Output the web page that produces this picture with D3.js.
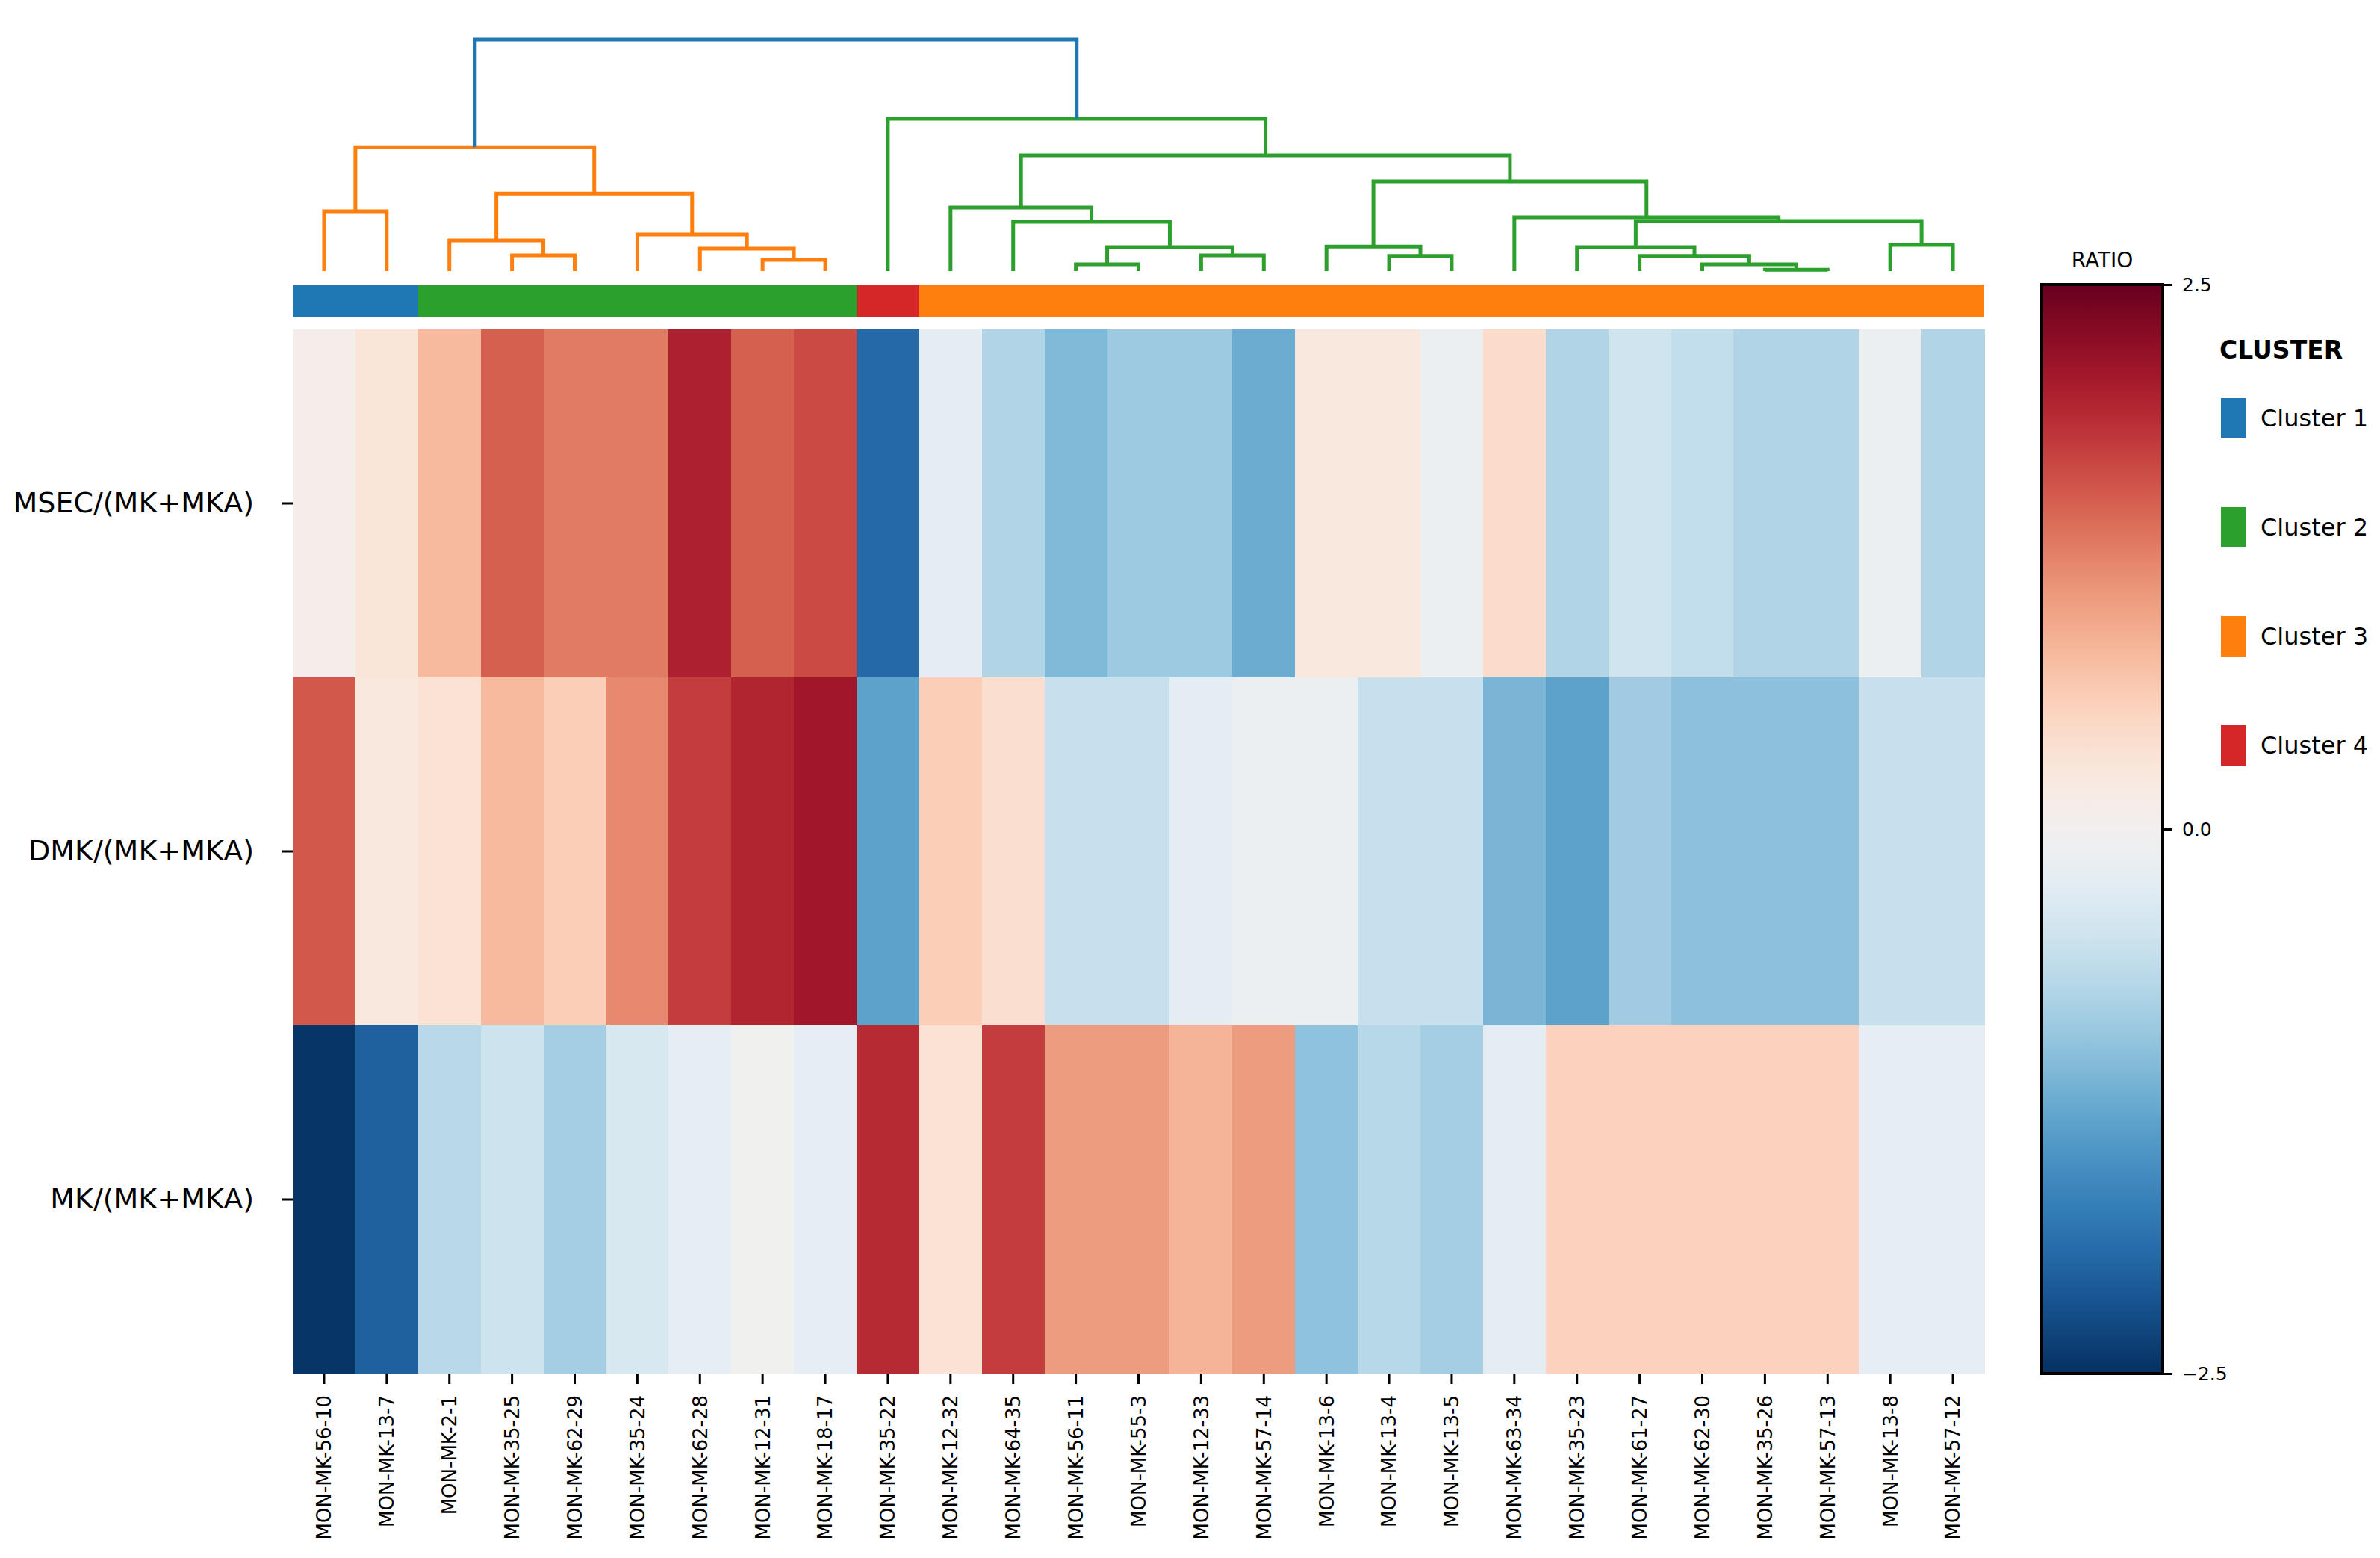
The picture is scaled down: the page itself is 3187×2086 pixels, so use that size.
<!DOCTYPE html>
<html>
<head>
<meta charset="utf-8">
<script src="https://cdn.jsdelivr.net/npm/d3@7"></script>
<style>
  body { margin: 0; background: #fff; }
  text { font-family: "DejaVu Sans", sans-serif; }
</style>
</head>
<body>
<svg id="chart"></svg>
<script>
// samples, in the order the dendrogram leaves them
var samples = ["MON-MK-56-10","MON-MK-13-7","MON-MK-2-1","MON-MK-35-25","MON-MK-62-29","MON-MK-35-24",
  "MON-MK-62-28","MON-MK-12-31","MON-MK-18-17","MON-MK-35-22","MON-MK-12-32","MON-MK-64-35",
  "MON-MK-56-11","MON-MK-55-3","MON-MK-12-33","MON-MK-57-14","MON-MK-13-6","MON-MK-13-4",
  "MON-MK-13-5","MON-MK-63-34","MON-MK-35-23","MON-MK-61-27","MON-MK-62-30","MON-MK-35-26",
  "MON-MK-57-13","MON-MK-13-8","MON-MK-57-12"];
var ratios = ["MSEC/(MK+MKA)","DMK/(MK+MKA)","MK/(MK+MKA)"];

// scaled ratio values, one list per row
var msecValues = [0.1,0.3,0.8,1.5,1.3,1.3,2.0,1.5,1.65,-1.95,-0.25,-0.75,-1.1,-0.9,-0.9,-1.25,
  0.25,0.25,-0.12,0.45,-0.75,-0.48,-0.6,-0.75,-0.75,-0.12,-0.75];
var dmkValues = [1.55,0.25,0.35,0.8,0.6,1.2,1.75,1.95,2.1,-1.35,0.6,0.4,-0.55,-0.55,-0.25,-0.12,
  -0.12,-0.55,-0.55,-1.15,-1.35,-0.88,-1.02,-1.02,-1.02,-0.55,-0.55];
var mkValues = [-2.45,-2.05,-0.68,-0.5,-0.85,-0.38,-0.22,-0.03,-0.22,1.9,0.35,1.75,1.05,1.05,0.85,1.05,
  -1.0,-0.7,-0.85,-0.25,0.55,0.55,0.55,0.55,0.55,-0.22,-0.22];
var rowValues = [msecValues, dmkValues, mkValues];

// cluster of each sample (colour bar)
var sampleCluster = [1,1,2,2,2,2,2,2,2,4,3,3,3,3,3,3,3,3,3,3,3,3,3,3,3,3,3];
var clusterNames = ["Cluster 1","Cluster 2","Cluster 3","Cluster 4"];
var clusterColors = ["#1f77b4","#2ca02c","#ff7f0e","#d62728"];

// linkage (scipy style): [left, right, distance], ids >= 27 are earlier merges
var linkage = [
  [7,8,0.48],[6,27,0.97],[3,4,0.68],[2,29,1.32],[5,28,1.58],[0,1,2.58],[30,31,3.35],[32,33,5.35],
  [23,24,0.06],[12,13,0.29],[22,35,0.29],[17,18,0.65],[21,37,0.65],[14,15,0.68],[36,40,1.03],
  [20,39,1.03],[16,38,1.06],[25,26,1.13],[11,41,2.13],[42,44,2.16],[19,46,2.32],[10,45,2.74],
  [43,47,3.87],[48,49,5.0],[9,50,6.58],[34,51,10.0]
];
var colorThreshold = 7;
var linkPalette = ["#ff7f0e","#2ca02c"];
var aboveColor = "#1f77b4";

var colorTicks = [-2.5, 0, 2.5];

var W = 3187, H = 2086;
var svg = d3.select("#chart").attr("width", W).attr("height", H);

var x = d3.scaleBand().domain(samples).range([392, 2657]);
var y = d3.scaleBand().domain(ratios).range([441, 1839]);
var color = d3.scaleSequential(d3.interpolateRdBu).domain([2.5, -2.5]);
var yDen = d3.scaleLinear().domain([0, 10]).range([363, 53]);

// heatmap
var cells = [];
rowValues.forEach(function(vals, r){
  vals.forEach(function(v, c){ cells.push({row: ratios[r], col: samples[c], v: v}); });
});
svg.append("g").attr("shape-rendering", "crispEdges")
  .selectAll("rect").data(cells).enter().append("rect")
  .attr("x", function(d){ return x(d.col); })
  .attr("y", function(d){ return y(d.row); })
  .attr("width", x.bandwidth() + 1)
  .attr("height", y.bandwidth() + 1)
  .attr("fill", function(d){ return color(d.v); });

// cluster colour bar
svg.append("g").attr("shape-rendering", "crispEdges")
  .selectAll("rect").data(samples).enter().append("rect")
  .attr("x", function(d){ return x(d); })
  .attr("y", 381)
  .attr("width", function(d, i){ return i < samples.length - 1 ? x.bandwidth() + 1 : x.bandwidth(); })
  .attr("height", 43)
  .attr("fill", function(d, i){ return clusterColors[sampleCluster[i] - 1]; });

// dendrogram nodes
var nodes = samples.map(function(s){
  return {x: x(s) + x.bandwidth() / 2, h: 0};
});
linkage.forEach(function(l){
  nodes.push({left: l[0], right: l[1], h: l[2],
    x: (nodes[l[0]].x + nodes[l[1]].x) / 2});
});
// colour: clusters below the threshold get the palette in left-to-right order
var next = 0;
function paint(id, c){
  var nd = nodes[id];
  if (nd.left === undefined) return;
  if (c == null && nd.h < colorThreshold) c = linkPalette[next++ % linkPalette.length];
  nd.color = c == null ? aboveColor : c;
  paint(nd.left, c);
  paint(nd.right, c);
}
paint(nodes.length - 1, null);

var links = nodes.filter(function(d){ return d.left !== undefined; });
svg.append("g").selectAll("path").data(links).enter().append("path")
  .attr("d", function(d){
    var a = nodes[d.left], b = nodes[d.right];
    return "M" + a.x + "," + yDen(a.h) + "V" + yDen(d.h) + "H" + b.x + "V" + yDen(b.h);
  })
  .attr("fill", "none")
  .attr("stroke", function(d){ return d.color; })
  .attr("stroke-width", 5);

// axes
var xAxis = svg.append("g").attr("transform", "translate(0,1839)")
  .call(d3.axisBottom(x).tickSize(14).tickSizeOuter(0));
xAxis.select(".domain").remove();
xAxis.selectAll(".tick line").attr("stroke", "#000").attr("stroke-width", 3);
xAxis.selectAll(".tick text")
  .attr("transform", "rotate(-90)")
  .attr("x", -29).attr("y", 0).attr("dy", "0.36em")
  .style("text-anchor", "end")
  .attr("fill", "#000")
  .style("font-size", "26px");

var yAxis = svg.append("g").attr("transform", "translate(392,0)")
  .call(d3.axisLeft(y).tickSize(14).tickPadding(38).tickSizeOuter(0));
yAxis.select(".domain").remove();
yAxis.selectAll(".tick line").attr("stroke", "#000").attr("stroke-width", 3);
yAxis.selectAll(".tick text").attr("fill", "#000").style("font-size", "38px");

// colour bar
var cb = {x: 2734, w: 162, top: 381, bottom: 1839};
var cbScale = d3.scaleLinear().domain([-2.5, 2.5]).range([cb.bottom, cb.top]);
var grad = svg.append("defs").append("linearGradient").attr("id", "cbGrad")
  .attr("x1", 0).attr("y1", 1).attr("x2", 0).attr("y2", 0);
grad.selectAll("stop").data(d3.range(0, 1.0001, 0.02)).enter().append("stop")
  .attr("offset", function(d){ return d; })
  .attr("stop-color", function(d){ return color(-2.5 + 5 * d); });
svg.append("rect")
  .attr("x", cb.x).attr("y", cb.top)
  .attr("width", cb.w).attr("height", cb.bottom - cb.top)
  .attr("fill", "url(#cbGrad)")
  .attr("stroke", "#000").attr("stroke-width", 4);
var cAxis = svg.append("g").attr("transform", "translate(" + (cb.x + cb.w) + ",0)")
  .call(d3.axisRight(cbScale).tickValues(colorTicks).tickFormat(d3.format(".1f"))
    .tickSize(13).tickPadding(13));
cAxis.select(".domain").remove();
cAxis.selectAll(".tick line").attr("stroke", "#000").attr("stroke-width", 3);
cAxis.selectAll(".tick text").attr("fill", "#000").style("font-size", "25px");
svg.append("text")
  .attr("x", cb.x + cb.w / 2).attr("y", 348)
  .attr("text-anchor", "middle").attr("dominant-baseline", "central")
  .style("font-size", "28px")
  .text("RATIO");

// cluster legend
svg.append("text")
  .attr("x", 2972).attr("y", 468)
  .attr("dominant-baseline", "central")
  .style("font-size", "33px").style("font-weight", "bold")
  .text("CLUSTER");
var leg = svg.append("g").selectAll("g").data(clusterNames).enter().append("g")
  .attr("transform", function(d, i){ return "translate(2974," + (560 + i * 146) + ")"; });
leg.append("rect")
  .attr("x", 0).attr("y", -27)
  .attr("width", 34).attr("height", 54)
  .attr("fill", function(d, i){ return clusterColors[i]; });
leg.append("text")
  .attr("x", 53).attr("y", 0)
  .attr("dominant-baseline", "central")
  .style("font-size", "32px")
  .text(function(d){ return d; });
</script>
</body>
</html>
